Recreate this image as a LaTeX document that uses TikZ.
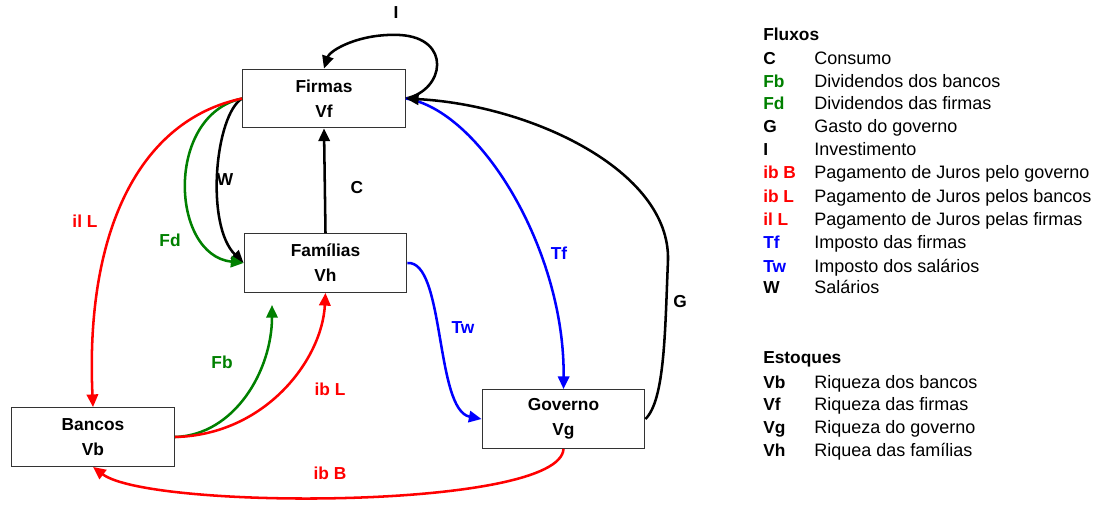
\documentclass[tikz,border=0pt]{standalone}
\usepackage{fontspec}
\setmainfont{Liberation Sans}
\usetikzlibrary{arrows.meta}
\definecolor{dgreen}{RGB}{0,128,0}
\begin{document}
\begin{tikzpicture}[x=0.75pt,y=-0.75pt,
  box/.style={draw=black!80, line width=0.9pt, minimum width=122pt, minimum height=44pt, align=center, font=\fontsize{13}{18.75}\selectfont\bfseries, inner sep=0pt},
  flow/.style={line width=1.9pt, -{Triangle[length=9.5pt,width=8.5pt]}},
  lbl/.style={font=\fontsize{13}{15}\selectfont\bfseries, inner sep=0pt},
  key/.style={anchor=base west, font=\fontsize{13}{15}\selectfont\bfseries, inner sep=0pt},
  desc/.style={anchor=base west, font=\fontsize{13.5}{15}\selectfont, inner sep=0pt}]
\useasboundingbox (0,0) rectangle (1113,504);

% nodes
\node[box] (f) at (324,98.5) {Firmas\\Vf};
\node[box] (h) at (325.5,263) {Famílias\\Vh};
\node[box] (b) at (93,437) {Bancos\\Vb};
\node[box] (g) at (563.5,419) {Governo\\Vg};
\coordinate (fbend) at (272,305);

% connectors
\draw[flow] (f.east) .. controls (445,90) and (452,38) .. (400,35) .. controls (360,33) and (330,50) .. (f.north);
\draw[flow] (h.north) -- (f.south);
\draw[flow] (f.west) .. controls (215,115) and (205,225) .. (h.west);
\draw[flow,dgreen] (f.west) .. controls (165,115) and (170,255) .. (h.west);
\draw[flow,red] (f.west) .. controls (140,120) and (85,230) .. (b.north);
\draw[flow,dgreen] (b.east) .. controls (235,435) and (272,370) .. (fbend);
\draw[flow,red] (b.east) .. controls (265,435) and (322,360) .. (h.south);
\draw[flow,red] (g.south) .. controls (560,510) and (150,510) .. (b.south);
\draw[flow,blue] (h.east) .. controls (445,260) and (435,410) .. (g.west);
\draw[flow,blue] (f.east) .. controls (480,110) and (565,250) .. (g.north);
\draw[flow] (g.east) .. controls (665,400) and (665,330) .. (668,260) .. controls (670,170) and (530,105) .. (f.east);

% connector labels
\node[lbl] (lI) at (396,13) {I};
\node[lbl] (lC) at (357,188) {C};
\node[lbl] (lW) at (225,180) {W};
\node[lbl,dgreen] (lFd) at (170,240) {Fd};
\node[lbl,red] (lilL) at (85,221) {il L};
\node[lbl,dgreen] (lFb) at (222,362) {Fb};
\node[lbl,red] (libL) at (330,389) {ib L};
\node[lbl,red] (libB) at (330,473) {ib B};
\node[lbl,blue] (lTw) at (463,328) {Tw};
\node[lbl,blue] (lTf) at (559,253) {Tf};
\node[lbl] (lG) at (680,302) {G};

% legend
\node[key] (hf) at (763,40) {Fluxos};
\node[key] (k1) at (763,64) {C};        \node[desc] (d1) at (814,64) {Consumo};
\node[key,dgreen] (k2) at (763,87) {Fb}; \node[desc] (d2) at (814,87) {Dividendos dos bancos};
\node[key,dgreen] (k3) at (763,109) {Fd}; \node[desc] (d3) at (814,109) {Dividendos das firmas};
\node[key] (k4) at (763,132) {G};        \node[desc] (d4) at (814,132) {Gasto do governo};
\node[key] (k5) at (763,155) {I};        \node[desc] (d5) at (814,155) {Investimento};
\node[key,red] (k6) at (763,178) {ib B};  \node[desc] (d6) at (814,178) {Pagamento de Juros pelo governo};
\node[key,red] (k7) at (763,202) {ib L};  \node[desc] (d7) at (814,202) {Pagamento de Juros pelos bancos};
\node[key,red] (k8) at (763,225) {il L};  \node[desc] (d8) at (814,225) {Pagamento de Juros pelas firmas};
\node[key,blue] (k9) at (763,248) {Tf};   \node[desc] (d9) at (814,248) {Imposto das firmas};
\node[key,blue] (k10) at (763,272) {Tw};  \node[desc] (d10) at (814,272) {Imposto dos salários};
\node[key] (k11) at (763,293) {W};       \node[desc] (d11) at (814,293) {Salários};

\node[key] (he) at (763,363) {Estoques};
\node[key] (s1) at (763,388) {Vb}; \node[desc] (e1) at (814,388) {Riqueza dos bancos};
\node[key] (s2) at (763,410) {Vf}; \node[desc] (e2) at (814,410) {Riqueza das firmas};
\node[key] (s3) at (763,433) {Vg}; \node[desc] (e3) at (814,433) {Riqueza do governo};
\node[key] (s4) at (763,456) {Vh}; \node[desc] (e4) at (814,456) {Riquea das famílias};
\end{tikzpicture}
\end{document}
